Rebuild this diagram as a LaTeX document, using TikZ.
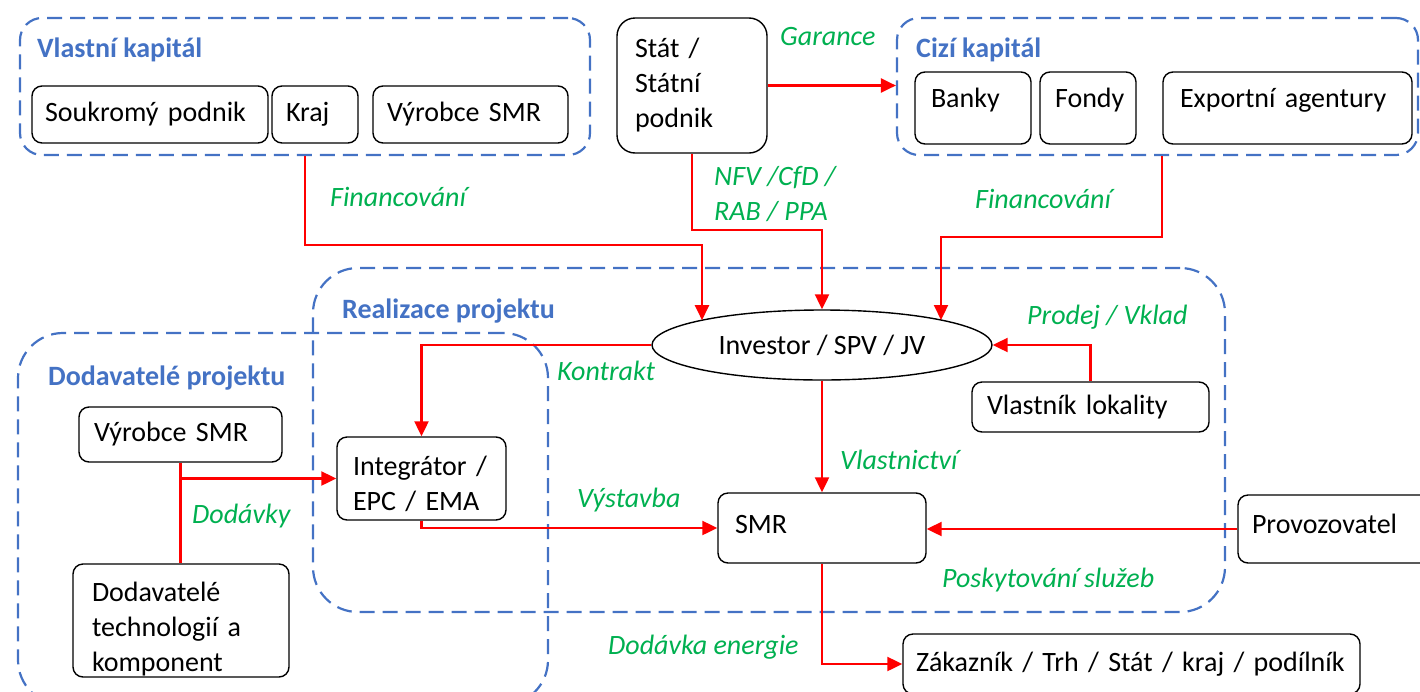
\documentclass[tikz,border=0pt]{standalone}
\usepackage{fontspec}
\setmainfont{Carlito}
\usetikzlibrary{arrows.meta,calc,shapes.geometric}
\definecolor{grpblue}{RGB}{68,114,196}
\definecolor{lblgreen}{RGB}{0,176,80}
\definecolor{arrred}{RGB}{255,0,0}
\newcommand\fsz{\fontsize{28}{35}\selectfont}
\newcommand\shiftup[2]{\raisebox{#1}[\height][\depth]{#2}}
\begin{document}
\begin{tikzpicture}[x=1pt,y=-1pt,
  grp/.style={draw=grpblue, line width=2.2pt, dash pattern=on 15pt off 8pt, inner sep=0pt},
  box/.style={draw=black, line width=1.4pt, rounded corners=10pt, align=left, inner ysep=0pt, font=\fsz},
  lbl/.style={text=lblgreen, font=\fsz\itshape, anchor=west, inner sep=0pt, align=left},
  ttl/.style={text=grpblue, font=\fsz\bfseries, anchor=west, inner sep=0pt},
  arr/.style={draw=arrred, line width=2.2pt, -{Triangle[length=15pt,width=14pt]}},
  ln/.style={draw=arrred, line width=2.2pt}]
\useasboundingbox (0,0) rectangle (1420,691);
\clip (0,0) rectangle (1420,691);
% groups
\node[grp, rounded corners=22pt, minimum width=570pt, minimum height=137pt] (vk) at (305,86.5) {};
\node[grp, rounded corners=22pt, minimum width=521pt, minimum height=137pt] (ck) at (1157.5,86.5) {};
\node[grp, rounded corners=45pt, minimum width=912pt, minimum height=344pt] (re) at (769,440) {};
\node[grp, rounded corners=45pt, minimum width=530pt, minimum height=372pt] (dp) at (283,519) {};
% titles
\node[ttl] (tvk) at (37,50) {Vlastní kapitál};
\node[ttl] (tck) at (916,50) {Cizí kapitál};
\node[ttl] (tre) at (342,311) {Realizace projektu};
\node[ttl] (tdo) at (48,378) {Dodavatelé projektu};
% boxes
\node[box, minimum height=57pt, inner xsep=13pt, text width=210pt] (sp) at (150,114.5) {Soukromý podnik};
\node[box, minimum height=57pt, inner xsep=14pt, text width=58pt] (kr) at (315,114.5) {Kraj};
\node[box, minimum height=57pt, inner xsep=14pt, text width=167pt] (vt) at (470.5,114.5) {Výrobce SMR};
\node[box, minimum height=135pt, inner xsep=18pt, text width=114pt, rounded corners=18pt] (stat) at (692,85.5) {Stát /\\Státní\\podnik};
\node[box, minimum height=72pt, inner xsep=16pt, text width=84pt] (ba) at (973,108) {\shiftup{8pt}{Banky}};
\node[box, minimum height=72pt, inner xsep=15pt, text width=66pt] (fo) at (1088,108) {\shiftup{8pt}{Fondy}};
\node[box, minimum height=72pt, inner xsep=17pt, text width=215pt] (ex) at (1287.5,108) {\shiftup{8pt}{\mbox{Exportní agentury}}};
\node[draw=black, line width=1.4pt, ellipse, minimum width=340pt, minimum height=70pt, inner sep=0pt, font=\fsz] (inv) at (822,345) {Investor / SPV / JV};
\node[box, minimum height=55pt, inner xsep=15pt, text width=173pt] (vs) at (180.5,434.5) {Výrobce SMR};
\node[box, minimum height=113pt, inner xsep=19pt, text width=178pt] (dt) at (181,620.5) {\shiftup{-9pt}{\parbox{178pt}{\fsz Dodavatelé\\technologií a\\komponent}}};
\node[box, minimum height=83pt, inner xsep=16pt, text width=137pt] (int) at (421.5,478.5) {\shiftup{-5pt}{\parbox{137pt}{\fsz\mbox{Integrátor /}\\EPC / EMA}}};
\node[box, minimum height=70pt, inner xsep=17pt, text width=174pt] (smr) at (822,528) {\shiftup{4pt}{SMR}};
\node[box, minimum height=50pt, inner xsep=15pt, text width=207pt] (vl) at (1090.5,407) {Vlastník lokality};
\node[box, minimum height=68pt, inner xsep=14pt, text width=164pt] (prov) at (1334,529) {\shiftup{5pt}{Provozovatel}};
\node[box, minimum height=60pt, inner xsep=13pt, text width=431pt] (zak) at (1131.5,664) {\mbox{Zákazník / Trh / Stát / kraj / podílník}};
% connectors
\coordinate (f1) at (305,245);
\coordinate (f2) at (702,245);
\draw[arr] (vk.south) -- (f1) -- (f2) -- ($(inv.center)+(-120,-24.8)$);
\coordinate (n1) at (692,230);
\draw[arr] (stat.south) -- (n1) -| (inv.north);
\coordinate (f3) at (1162,237);
\draw[arr] (ck.south -| f3) -- (f3) -| ($(inv.center)+(119,-25)$);
\draw[arr] (stat.east) -- (stat.east -| ck.west);
\draw[arr] (inv.west) -| (int.north);
\draw[arr] (vl.north) |- (inv.east);
\draw[ln] (vs.south) -- (vs.south |- dt.north);
\coordinate (d1) at (vs.south |- int.west);
\draw[arr] (d1) -- (int.west);
\draw[arr] (int.south) |- (smr.west);
\draw[arr] (inv.south) -- (smr.north);
\draw[arr] (prov.west) -- (prov.west -| smr.east);
\draw[arr] (smr.south) |- (zak.west);
% labels
\node[lbl] (lf1) at (330,197) {Financování};
\node[lbl] (lnfv) at (714,193.5) {NFV /CfD /\\RAB / PPA};
\node[lbl] (lgar) at (780,37) {Garance};
\node[lbl] (lf2) at (975,199) {Financování};
\node[lbl] (lpv) at (1027,317) {Prodej / Vklad};
\node[lbl] (lko) at (557,371) {Kontrakt};
\node[lbl] (ldo) at (192,516) {Dodávky};
\node[lbl] (lvy) at (577,500) {Výstavba};
\node[lbl] (lvl) at (840,460) {Vlastnictví};
\node[lbl] (lps) at (942,580) {Poskytování služeb};
\node[lbl] (lde) at (608,647) {Dodávka energie};
\end{tikzpicture}
\end{document}
